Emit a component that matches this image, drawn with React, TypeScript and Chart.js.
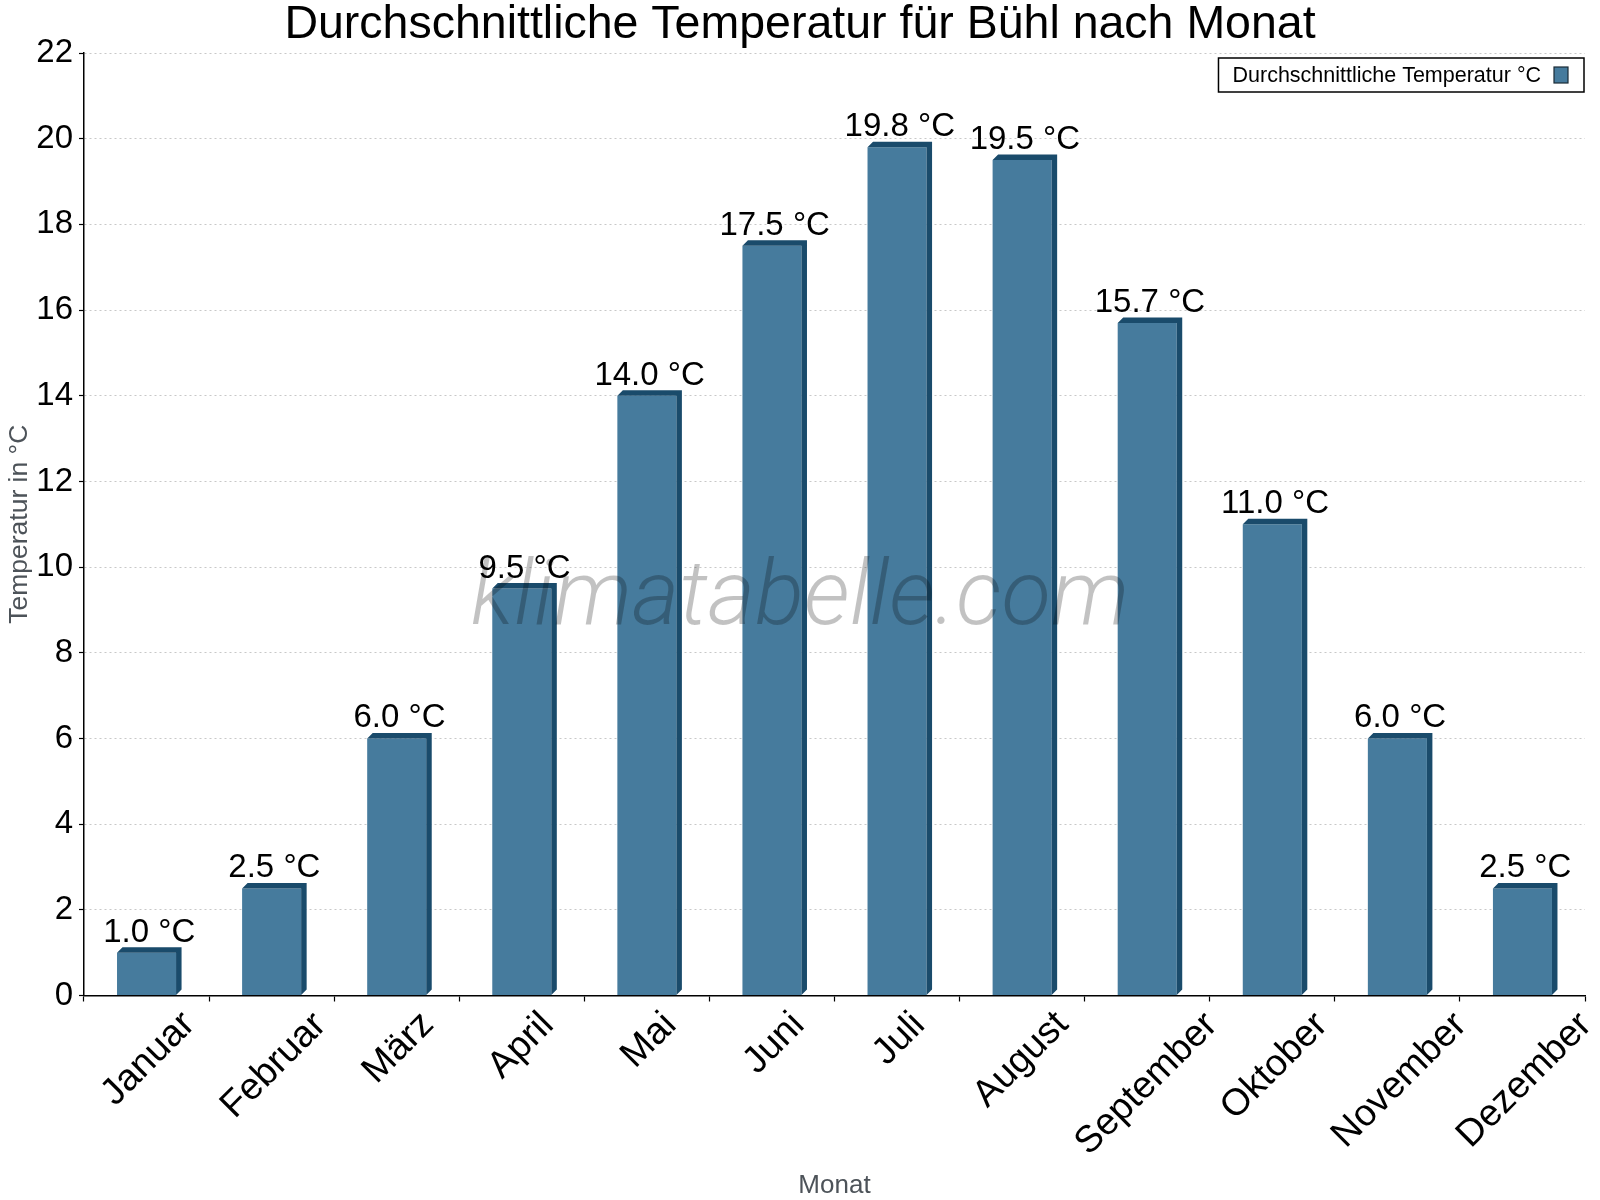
import React, { useEffect, useRef } from 'react';
import { Chart, registerables } from 'chart.js';

Chart.register(...registerables);

const months = [
  'Januar', 'Februar', 'März', 'April', 'Mai', 'Juni',
  'Juli', 'August', 'September', 'Oktober', 'November', 'Dezember',
];
const avgTemp = [1.0, 2.5, 6.0, 9.5, 14.0, 17.5, 19.8, 19.5, 15.7, 11.0, 6.0, 2.5];
const seriesLabel = 'Durchschnittliche Temperatur °C';
const chartTitle = 'Durchschnittliche Temperatur für Bühl nach Monat';
const yTitle = 'Temperatur in °C';
const xTitle = 'Monat';
const watermark = 'klimatabelle.com';

const FONT = '"Liberation Sans", Arial, sans-serif';
const FRONT = '#467b9d';
const SIDE = '#1a4b6b';
const DEPTH = 5.5;

// 3d bar faces, value labels, rotated month labels, titles, legend box
const decorPlugin = {
  id: 'decor',
  afterDatasetsDraw(chart: any) {
    const { ctx } = chart;
    const meta = chart.getDatasetMeta(0);
    const d = DEPTH;
    ctx.save();
    ctx.fillStyle = SIDE;
    meta.data.forEach((bar: any) => {
      const { x, y, base, width } = bar.getProps(['x', 'y', 'base', 'width'], true);
      const x1 = x - width / 2;
      const x2 = x + width / 2;
      ctx.beginPath();
      ctx.moveTo(x1, y);
      ctx.lineTo(x1 + d, y - d);
      ctx.lineTo(x2 + d, y - d);
      ctx.lineTo(x2 + d, base - d);
      ctx.lineTo(x2, base);
      ctx.lineTo(x2, y);
      ctx.closePath();
      ctx.fill();
    });
    ctx.restore();
  },
  afterDraw(chart: any) {
    const { ctx, chartArea, scales } = chart;
    const xs = scales.x;
    const meta = chart.getDatasetMeta(0);

    ctx.save();
    // watermark
    ctx.font = `italic 300 91px Roboto, ${FONT}`;
    ctx.fillStyle = 'rgba(0,0,0,0.24)';
    ctx.textAlign = 'center';
    ctx.textBaseline = 'alphabetic';
    ctx.fillText(watermark, chart.width / 2, 624);

    // value labels
    ctx.font = `33px ${FONT}`;
    ctx.fillStyle = '#000';
    meta.data.forEach((bar: any, i: number) => {
      const { x, y } = bar.getProps(['x', 'y'], true);
      ctx.fillText(`${avgTemp[i].toFixed(1)} °C`, x + DEPTH / 2, y - 11);
    });

    // month labels, rotated about their centre
    ctx.font = `37.5px ${FONT}`;
    months.forEach((m, i) => {
      const px = xs.getPixelForValue(i);
      const tm = ctx.measureText(m);
      const w = tm.width;
      const asc = tm.actualBoundingBoxAscent;
      const desc = tm.actualBoundingBoxDescent;
      const diag = (w + asc + desc) * Math.SQRT1_2;
      const cy = xs.top + 12 + diag / 2;
      ctx.save();
      ctx.translate(px, cy);
      ctx.rotate(-Math.PI / 4);
      ctx.textAlign = 'left';
      ctx.fillText(m, -w / 2, (asc - desc) / 2);
      ctx.restore();
    });

    // title
    ctx.textAlign = 'center';
    ctx.font = `46.5px ${FONT}`;
    ctx.fillText(chartTitle, chart.width / 2, 38);

    // axis titles
    ctx.fillStyle = '#4d5359';
    ctx.font = `26px ${FONT}`;
    ctx.fillText(xTitle, (chartArea.left + chartArea.right) / 2, 1193);
    ctx.save();
    ctx.translate(20, (chartArea.top + chartArea.bottom) / 2);
    ctx.rotate(-Math.PI / 2);
    ctx.font = `26.5px ${FONT}`;
    ctx.textBaseline = 'middle';
    ctx.fillText(yTitle, 0, 0);
    ctx.restore();

    // legend box
    ctx.font = `21.5px ${FONT}`;
    const tw = ctx.measureText(seriesLabel).width;
    const bw = 14 + tw + 13 + 14 + 16;
    const bx = chartArea.right - 1 - bw;
    const by = chartArea.top + 5;
    ctx.fillStyle = '#fff';
    ctx.fillRect(bx, by, bw, 34);
    ctx.strokeStyle = '#000';
    ctx.lineWidth = 1.5;
    ctx.strokeRect(bx, by, bw, 34);
    ctx.fillStyle = '#000';
    ctx.textAlign = 'left';
    ctx.fillText(seriesLabel, bx + 14, by + 24);
    const sx = bx + 14 + tw + 13;
    ctx.fillStyle = FRONT;
    ctx.fillRect(sx, by + 9, 14, 16);
    ctx.lineWidth = 1.2;
    ctx.strokeStyle = '#1a2a35';
    ctx.strokeRect(sx, by + 9, 14, 16);
    ctx.restore();
  },
};

export default function App() {
  const canvasRef = useRef<HTMLCanvasElement>(null);
  const chartRef = useRef<Chart | null>(null);

  useEffect(() => {
    document.body.style.margin = '0';
    if (!canvasRef.current) return;
    const ctx = canvasRef.current.getContext('2d');
    if (!ctx) return;
    if (chartRef.current) chartRef.current.destroy();

    Chart.defaults.font.family = FONT;

    chartRef.current = new Chart(ctx, {
      type: 'bar',
      data: {
        labels: months,
        datasets: [
          {
            label: seriesLabel,
            data: avgTemp,
            backgroundColor: FRONT,
            borderWidth: 0,
            categoryPercentage: 1,
            barPercentage: 0.472,
          },
        ],
      },
      options: {
        responsive: false,
        animation: false,
        devicePixelRatio: 1,
        layout: { padding: { top: 53, right: 15, left: 0, bottom: 0 } },
        plugins: {
          legend: { display: false },
          title: { display: false },
          tooltip: { enabled: false },
        },
        scales: {
          x: {
            offset: true,
            grid: {
              offset: true,
              drawOnChartArea: false,
              tickLength: 6,
              tickColor: '#000',
              tickWidth: 1.2,
            },
            border: { color: '#000', width: 1.5 },
            ticks: { display: false },
            afterFit: (s: any) => {
              s.height = 204.5;
            },
          },
          y: {
            min: 0,
            max: 22,
            ticks: {
              stepSize: 2,
              color: '#000',
              padding: 6,
              font: { size: 33 },
            },
            grid: {
              color: '#c8c8c8',
              lineWidth: 1,
              tickLength: 5,
              tickColor: '#000',
              tickWidth: 1.2,
              tickBorderDash: [],
            },
            border: { color: '#000', width: 1.5, dash: [2, 3] },
            afterFit: (s: any) => {
              s.width = 84;
            },
          },
        },
      },
      plugins: [decorPlugin],
    });

    return () => chartRef.current?.destroy();
  }, []);

  return (
    <div style={{ width: 1600, height: 1200, background: '#fff' }}>
      <canvas ref={canvasRef} width={1600} height={1200}></canvas>
    </div>
  );
}
